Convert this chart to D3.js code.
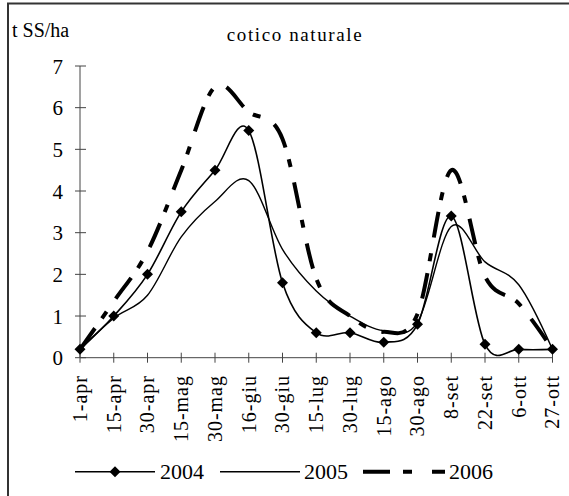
<!doctype html>
<html lang="it">
<head>
<meta charset="utf-8">
<title>cotico naturale</title>
<script src="https://d3js.org/d3.v7.min.js"></script>
<style>
  body { margin: 0; background: #fff; }
</style>
</head>
<body>
<svg width="569" height="496" font-family="'Liberation Serif', 'DejaVu Serif', serif"></svg>
<script>
// data
var dates = ["1-apr", "15-apr", "30-apr", "15-mag", "30-mag", "16-giu", "30-giu", "15-lug",
             "30-lug", "15-ago", "30-ago", "8-set", "22-set", "6-ott", "27-ott"];
var v2004 = [0.2, 1.0, 2.0, 3.5, 4.5, 5.45, 1.8, 0.6, 0.6, 0.37, 0.8, 3.4, 0.32, 0.2, 0.2];
var v2005 = [0.2, 0.95, 1.5, 2.9, 3.75, 4.25, 2.6, 1.6, 1.0, 0.65, 0.85, 3.15, 2.3, 1.75, 0.2];
var v2006 = [0.2, 1.35, 2.55, 4.5, 6.5, 5.9, 5.25, 1.9, 1.0, 0.62, 1.05, 4.5, 1.95, 1.3, 0.2];
var yTicks = [0, 1, 2, 3, 4, 5, 6, 7];

var serif = "'Liberation Serif', 'Times New Roman', Times, serif";
var svg = d3.select("svg");

// outer frame (right and bottom edges fall off the picture)
svg.append("rect")
    .attr("x", 8).attr("y", 3.5)
    .attr("width", 600).attr("height", 520)
    .attr("fill", "none").attr("stroke", "#333").attr("stroke-width", 2);

var x = d3.scalePoint().domain(dates).range([80, 552.5]);
var y = d3.scaleLinear().domain([0, 7]).range([357.7, 66]);

var axisColor = "#444";

// y axis
var gy = svg.append("g");
gy.append("line")
    .attr("x1", 80).attr("x2", 80)
    .attr("y1", y(0)).attr("y2", y(7))
    .attr("stroke", axisColor);
gy.selectAll("line.tick").data(yTicks).enter().append("line")
    .attr("class", "tick")
    .attr("x1", 75).attr("x2", 86)
    .attr("y1", function(d) { return y(d); })
    .attr("y2", function(d) { return y(d); })
    .attr("stroke", axisColor);
gy.selectAll("text").data(yTicks).enter().append("text")
    .attr("x", 63)
    .attr("y", function(d) { return y(d); })
    .attr("dy", "0.36em")
    .attr("text-anchor", "end")
    .style("font-family", serif)
    .style("font-size", "21px")
    .text(function(d) { return d; });

// x axis
var gx = svg.append("g");
gx.append("line")
    .attr("x1", x(dates[0])).attr("x2", x(dates[dates.length - 1]))
    .attr("y1", y(0)).attr("y2", y(0))
    .attr("stroke", axisColor);
gx.selectAll("line.tick").data(dates).enter().append("line")
    .attr("class", "tick")
    .attr("x1", function(d) { return x(d); })
    .attr("x2", function(d) { return x(d); })
    .attr("y1", y(0) - 5).attr("y2", y(0) + 5)
    .attr("stroke", axisColor);
gx.selectAll("text").data(dates).enter().append("text")
    .attr("transform", function(d) { return "translate(" + x(d) + ",375) rotate(-90)"; })
    .attr("dy", "0.34em")
    .attr("text-anchor", "end")
    .style("font-family", serif)
    .style("font-size", "20px")
    .style("letter-spacing", "1px")
    .text(function(d) { return d; });

// titles
svg.append("text")
    .attr("x", 12).attr("y", 36.5)
    .style("font-family", serif)
    .style("font-size", "20px")
    .text("t SS/ha");
svg.append("text")
    .attr("x", 295).attr("y", 41)
    .attr("text-anchor", "middle")
    .style("font-family", serif)
    .style("font-size", "19px")
    .style("letter-spacing", "1.6px")
    .text("cotico naturale");

// series
var line = d3.line()
    .x(function(d, i) { return x(dates[i]); })
    .y(function(d) { return y(d); })
    .curve(d3.curveCatmullRom.alpha(0));

svg.append("path").datum(v2005)
    .attr("d", line)
    .attr("fill", "none").attr("stroke", "#000").attr("stroke-width", 1.4);

svg.append("path").datum(v2006)
    .attr("d", line)
    .attr("fill", "none").attr("stroke", "#000").attr("stroke-width", 4)
    .attr("stroke-dasharray", "26,12,8,16");

svg.append("path").datum(v2004)
    .attr("d", line)
    .attr("fill", "none").attr("stroke", "#000").attr("stroke-width", 1.6);

var diamond = "M0,-5.5L5.5,0L0,5.5L-5.5,0Z";
svg.selectAll("path.dot").data(v2004).enter().append("path")
    .attr("class", "dot")
    .attr("d", diamond)
    .attr("transform", function(d, i) { return "translate(" + x(dates[i]) + "," + y(d) + ")"; })
    .attr("fill", "#000");

// legend
var ly = 471.7;
var legend = svg.append("g").style("font-family", serif).style("font-size", "22px");
legend.append("line")
    .attr("x1", 75).attr("x2", 155).attr("y1", ly).attr("y2", ly)
    .attr("stroke", "#000").attr("stroke-width", 1.6);
legend.append("path")
    .attr("d", diamond)
    .attr("transform", "translate(115," + ly + ")");
legend.append("text")
    .attr("x", 160).attr("y", 479)
    .text("2004");

legend.append("line")
    .attr("x1", 220).attr("x2", 300).attr("y1", ly).attr("y2", ly)
    .attr("stroke", "#000").attr("stroke-width", 1.4);
legend.append("text")
    .attr("x", 304).attr("y", 479)
    .text("2005");

legend.append("line")
    .attr("x1", 363).attr("x2", 445).attr("y1", ly).attr("y2", ly)
    .attr("stroke", "#000").attr("stroke-width", 4)
    .attr("stroke-dasharray", "27,13,9,20");
legend.append("text")
    .attr("x", 449).attr("y", 479)
    .text("2006");
</script>
</body>
</html>
